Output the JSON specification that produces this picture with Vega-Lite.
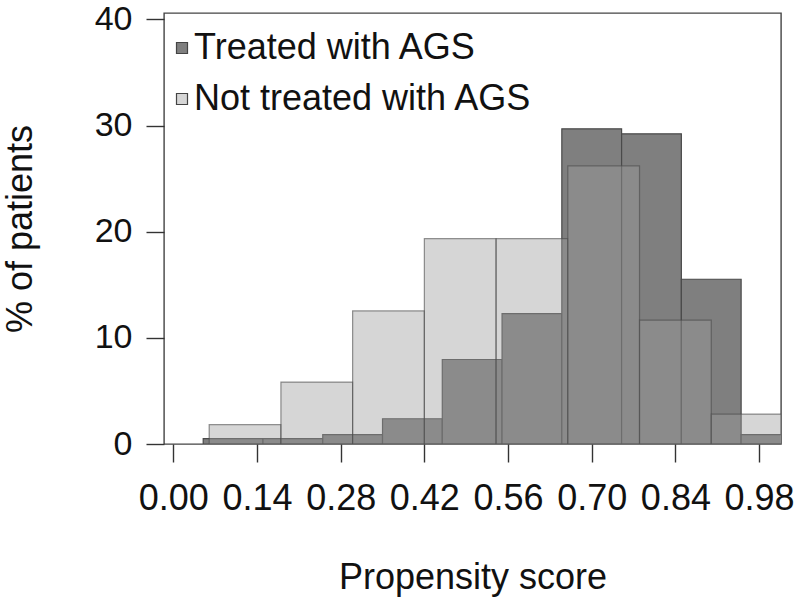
{
  "$schema": "https://vega.github.io/schema/vega-lite/v6.json",
  "width": 617,
  "height": 431,
  "autosize": "none",
  "padding": {"left": 164, "top": 13, "right": 19, "bottom": 158},
  "background": "white",
  "config": {
    "view": {"stroke": "#444", "strokeWidth": 1.4},
    "font": "Liberation Sans",
    "axis": {
      "grid": false,
      "domain": false,
      "tickColor": "#333",
      "tickWidth": 1.4,
      "tickSize": 18,
      "labelColor": "#111",
      "titleColor": "#111",
      "labelFont": "Liberation Sans",
      "titleFont": "Liberation Sans",
      "titleFontWeight": "normal"
    },
    "legend": {
      "title": null,
      "orient": "none",
      "legendX": 0,
      "legendY": 17,
      "padding": 0,
      "symbolType": "square",
      "symbolSize": 121,
      "symbolStrokeColor": "#444",
      "symbolStrokeWidth": 1.2,
      "labelFontSize": 36,
      "labelColor": "#111",
      "labelFont": "Liberation Sans",
      "labelOffset": -6,
      "rowPadding": 15,
      "labelLimit": 600
    }
  },
  "data": {
    "values": [
      {"group": "Treated with AGS", "x0": 0.05, "x1": 0.15, "pct": 0.5},
      {"group": "Treated with AGS", "x0": 0.15, "x1": 0.25, "pct": 0.5},
      {"group": "Treated with AGS", "x0": 0.25, "x1": 0.35, "pct": 0.88},
      {"group": "Treated with AGS", "x0": 0.35, "x1": 0.45, "pct": 2.38},
      {"group": "Treated with AGS", "x0": 0.45, "x1": 0.55, "pct": 7.96},
      {"group": "Treated with AGS", "x0": 0.55, "x1": 0.65, "pct": 12.29},
      {"group": "Treated with AGS", "x0": 0.65, "x1": 0.75, "pct": 29.69},
      {"group": "Treated with AGS", "x0": 0.75, "x1": 0.85, "pct": 29.22},
      {"group": "Treated with AGS", "x0": 0.85, "x1": 0.95, "pct": 15.52},
      {"group": "Treated with AGS", "x0": 0.95, "x1": 1.05, "pct": 0.88},
      {"group": "Not treated with AGS", "x0": 0.06, "x1": 0.18, "pct": 1.82},
      {"group": "Not treated with AGS", "x0": 0.18, "x1": 0.30, "pct": 5.83},
      {"group": "Not treated with AGS", "x0": 0.30, "x1": 0.42, "pct": 12.54},
      {"group": "Not treated with AGS", "x0": 0.42, "x1": 0.54, "pct": 19.34},
      {"group": "Not treated with AGS", "x0": 0.54, "x1": 0.66, "pct": 19.34},
      {"group": "Not treated with AGS", "x0": 0.66, "x1": 0.78, "pct": 26.2},
      {"group": "Not treated with AGS", "x0": 0.78, "x1": 0.90, "pct": 11.66},
      {"group": "Not treated with AGS", "x0": 0.90, "x1": 1.02, "pct": 2.82}
    ]
  },
  "encoding": {
    "x": {
      "field": "x0",
      "type": "quantitative",
      "scale": {"domain": [-0.0156, 1.0167], "nice": false, "zero": false},
      "axis": {
        "values": [0, 0.14, 0.28, 0.42, 0.56, 0.70, 0.84, 0.98],
        "format": ".2f",
        "labelFontSize": 36,
        "labelPadding": 19,
        "labelOverlap": false,
        "labelFlush": false,
        "title": "Propensity score",
        "titleFontSize": 36,
        "titlePadding": 44
      }
    },
    "x2": {"field": "x1"},
    "y": {
      "field": "pct",
      "type": "quantitative",
      "stack": null,
      "scale": {"domain": [0, 40.6], "nice": false},
      "axis": {
        "values": [0, 10, 20, 30, 40],
        "labelFontSize": 34,
        "labelPadding": 14,
        "title": "% of patients",
        "titleFontSize": 36,
        "titlePadding": 55
      }
    },
    "y2": {"datum": 0},
    "color": {
      "field": "group",
      "type": "nominal",
      "scale": {"domain": ["Treated with AGS", "Not treated with AGS"], "range": ["#7f7f7f", "#9e9e9e"]},
      "legend": {
        "encode": {
          "symbols": {
            "update": {
              "fillOpacity": {"scale": "fillOpacity", "field": "value"}
            }
          }
        }
      }
    },
    "fillOpacity": {
      "field": "group",
      "type": "nominal",
      "scale": {"domain": ["Treated with AGS", "Not treated with AGS"], "range": [1, 0.42]},
      "legend": null
    }
  },
  "layer": [
    {
      "transform": [{"filter": "datum.group === 'Treated with AGS'"}],
      "mark": {"type": "rect", "clip": true, "stroke": "#4a4a4a", "strokeWidth": 1.2}
    },
    {
      "transform": [{"filter": "datum.group === 'Not treated with AGS'"}],
      "mark": {"type": "rect", "clip": true, "stroke": "#4a4a4a", "strokeWidth": 1.2, "strokeOpacity": 0.6}
    }
  ]
}
